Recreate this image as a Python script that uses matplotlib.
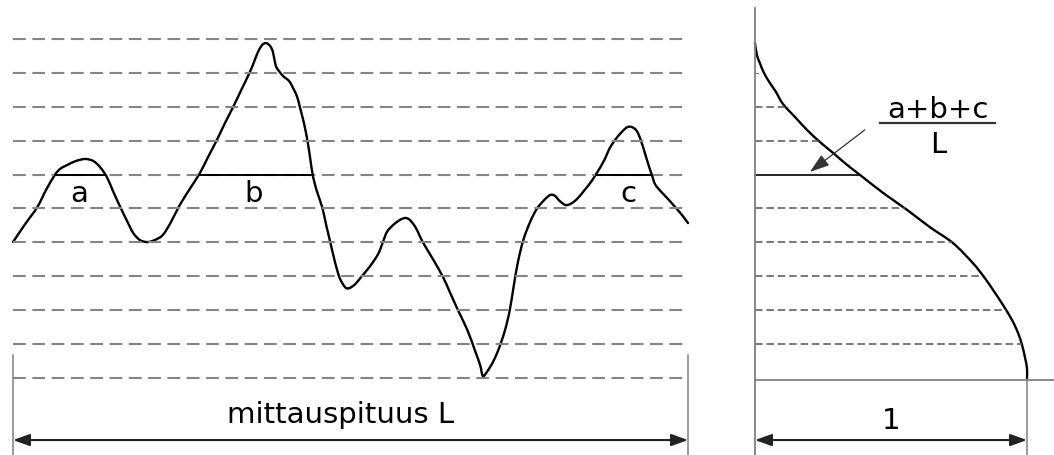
import numpy as np
import matplotlib
matplotlib.use("Agg")
import matplotlib.pyplot as plt
from matplotlib.path import Path
from matplotlib.patches import PathPatch

plt.rcParams['lines.scale_dashes'] = False
plt.rcParams['font.family'] = ['DejaVu Sans']

# profile: position along measuring length (% of L) and height (in level steps)
prof_x = [0, 1.8, 3.6, 4.9, 6.2, 7.0, 8.0, 9.3, 10.7, 11.9, 12.9, 13.9, 14.8, 15.9,
          16.9, 17.8, 18.8, 19.9, 21.0, 22.2, 23.4, 24.7, 26.2, 27.7, 28.9, 30.2,
          31.4, 32.6, 33.9, 35.1, 35.7, 36.3, 36.9, 37.5, 38.1, 38.5, 38.8, 39.1,
          40.0, 40.9, 41.5, 42.1, 42.5, 43.1, 43.6, 44.0, 44.4, 45.0, 45.8, 46.4,
          47.0, 47.7, 48.4, 49.2, 49.8, 50.7, 51.7, 52.9, 54.1, 54.8, 55.4, 56.3,
          57.3, 58.1, 58.8, 59.7, 60.7, 62.2, 63.7, 64.7, 65.9, 67.3, 68.4, 69.2,
          69.6, 70.2, 71.1, 72.0, 72.9, 73.6, 74.2, 74.8, 75.6, 76.6, 77.6, 78.7,
          79.6, 80.3, 81.0, 81.9, 82.8, 83.7, 84.7, 85.5, 86.5, 87.6, 88.4, 89.3,
          90.2, 91.0, 91.7, 92.4, 93.0, 93.6, 94.2, 94.7, 95.1, 95.9, 96.9, 98.1,
          99.1, 100]
prof_z = [4.01, 4.54, 5.04, 5.55, 5.99, 6.17, 6.28, 6.40, 6.46, 6.40, 6.22, 5.93,
          5.52, 5.04, 4.63, 4.28, 4.07, 4.01, 4.07, 4.22, 4.60, 5.10, 5.58, 6.05,
          6.52, 7.02, 7.52, 7.99, 8.53, 9.03, 9.32, 9.62, 9.82, 9.88, 9.79, 9.62,
          9.32, 9.14, 8.91, 8.76, 8.55, 8.29, 7.99, 7.52, 7.02, 6.52, 5.99, 5.52,
          5.04, 4.51, 4.01, 3.42, 2.95, 2.68, 2.65, 2.77, 3.01, 3.30, 3.66, 4.01,
          4.31, 4.51, 4.66, 4.72, 4.66, 4.42, 4.01, 3.51, 2.98, 2.54, 2.01, 1.42,
          0.83, 0.38, 0.06, 0.18, 0.47, 0.88, 1.42, 2.01, 2.74, 3.42, 4.07, 4.60,
          4.99, 5.25, 5.40, 5.37, 5.22, 5.10, 5.16, 5.31, 5.55, 5.75, 6.05, 6.43,
          6.78, 7.05, 7.26, 7.40, 7.40, 7.29, 7.02, 6.64, 6.25, 5.96, 5.72, 5.52,
          5.31, 5.04, 4.81, 4.57]

# bearing ratio curve (0..1) against height
bear_x = [0, 0.007, 0.018, 0.033, 0.055, 0.077, 0.103, 0.147, 0.191, 0.239, 0.287,
          0.335, 0.386, 0.471, 0.559, 0.643, 0.728, 0.801, 0.842, 0.875, 0.912,
          0.945, 0.967, 0.982, 0.993, 1.0, 1.0]
bear_z = [9.88, 9.53, 9.29, 9.00, 8.70, 8.44, 8.08, 7.70, 7.32, 6.96, 6.64, 6.31,
          5.99, 5.46, 4.96, 4.45, 3.98, 3.39, 2.98, 2.60, 2.15, 1.71, 1.33, 0.97,
          0.59, 0.29, 0.0]

levels = list(range(11))
right_levels = [1, 2, 3, 4, 5, 7, 8]
cut = 6
labels = ['a', 'b', 'c']
label_x = [9.8, 35.6, 91.1]


def smooth_path(xs, ys):
    # catmull-rom through the read points, drawn as cubic beziers
    p = np.column_stack([xs, ys]).astype(float)
    p = np.vstack([p[0], p, p[-1]])
    verts = [p[1]]
    codes = [Path.MOVETO]
    for i in range(1, len(p) - 2):
        c1 = p[i] + (p[i + 1] - p[i - 1]) / 6
        c2 = p[i + 1] - (p[i + 2] - p[i]) / 6
        verts += [c1, c2, p[i + 1]]
        codes += [Path.CURVE4] * 3
    return Path(verts, codes)


fig = plt.figure(figsize=(10.54, 4.55), dpi=100)
ax1 = fig.add_axes([0, 0, 740 / 1054, 1])
ax2 = fig.add_axes([740 / 1054, 0, 314 / 1054, 1])
zlim = (-2.271, 11.15)
ax1.set_xlim(-1.926, 107.7)
ax1.set_ylim(*zlim)
ax2.set_xlim(-0.0551, 1.0993)
ax2.set_ylim(*zlim)
for ax in (ax1, ax2):
    ax.axis('off')

# left: level lines
for lv in levels:
    ax1.plot([0, 100], [lv, lv], color='#858585', lw=1.5, dashes=(9.2, 4.7))

ax1.add_patch(PathPatch(smooth_path(prof_x, prof_z), facecolor='none',
                        edgecolor='black', lw=1.7, capstyle='round', joinstyle='round'))

# crossings of the cut level -> a, b, c segments
px = np.array(prof_x)
pz = np.array(prof_z) - cut
cross = []
for i in range(len(px) - 1):
    if pz[i] * pz[i + 1] < 0:
        t = pz[i] / (pz[i] - pz[i + 1])
        cross.append(px[i] + t * (px[i + 1] - px[i]))
for k in range(0, len(cross) - 1, 2):
    ax1.plot([cross[k], cross[k + 1]], [cut, cut], color='black', lw=1.4)

for lab, lx in zip(labels, label_x):
    ax1.text(lx, 5.19, lab, ha='center', va='baseline', fontsize=21)

# measuring length dimension
for xe in (0, 100):
    ax1.plot([xe, xe], [0.68, -2.27], color='#808080', lw=1.1)
ax1.annotate('', xy=(100, -1.83), xytext=(0, -1.83),
             arrowprops=dict(arrowstyle='<|-|>,head_length=1.0,head_width=0.36',
                             color='#222222', lw=1.5, shrinkA=0, shrinkB=0,
                             mutation_scale=10))
ax1.text(48.5, -1.33, 'mittauspituus L', ha='center', va='baseline', fontsize=21)

# right: bearing curve
bz = np.array(bear_z)[::-1]
bx = np.array(bear_x)[::-1]
for lv in right_levels:
    ax2.plot([0, np.interp(lv, bz, bx)], [lv, lv], color='#555555', lw=1.1,
             dashes=(5.4, 2.8))
ax2.plot([0, np.interp(cut, bz, bx)], [cut, cut], color='black', lw=1.2)
ax2.plot([0, 0.012], [9, 9], color='#777777', lw=0.8)
ax2.add_patch(PathPatch(smooth_path(bear_x, bear_z), facecolor='none',
                        edgecolor='black', lw=1.7, capstyle='round', joinstyle='round'))

ax2.plot([0, 0], [10.91, -2.27], color='#808080', lw=1.3)
ax2.plot([0, 1.0993], [-0.05, -0.05], color='#808080', lw=1.3)
ax2.plot([1, 1], [-0.05, -2.27], color='#808080', lw=1.1)
ax2.annotate('', xy=(1, -1.83), xytext=(0, -1.83),
             arrowprops=dict(arrowstyle='<|-|>,head_length=1.0,head_width=0.36',
                             color='#222222', lw=1.5, shrinkA=0, shrinkB=0,
                             mutation_scale=10))
ax2.text(0.5, -1.50, '1', ha='center', va='baseline', fontsize=21)

# fraction (a+b+c)/L with pointer
ax2.text(0.673, 7.67, 'a+b+c', ha='center', va='baseline', fontsize=21)
ax2.plot([0.46, 0.882], [7.51, 7.51], color='#333333', lw=1.6)
ax2.text(0.673, 6.64, 'L', ha='center', va='baseline', fontsize=21)
ax2.annotate('', xy=(0.202, 6.08), xytext=(0.404, 7.32),
             arrowprops=dict(arrowstyle='-|>,head_length=1.2,head_width=0.4',
                             color='#333333', lw=0.9, shrinkA=0, shrinkB=0,
                             mutation_scale=10))

fig.savefig('out.png', dpi=100)
